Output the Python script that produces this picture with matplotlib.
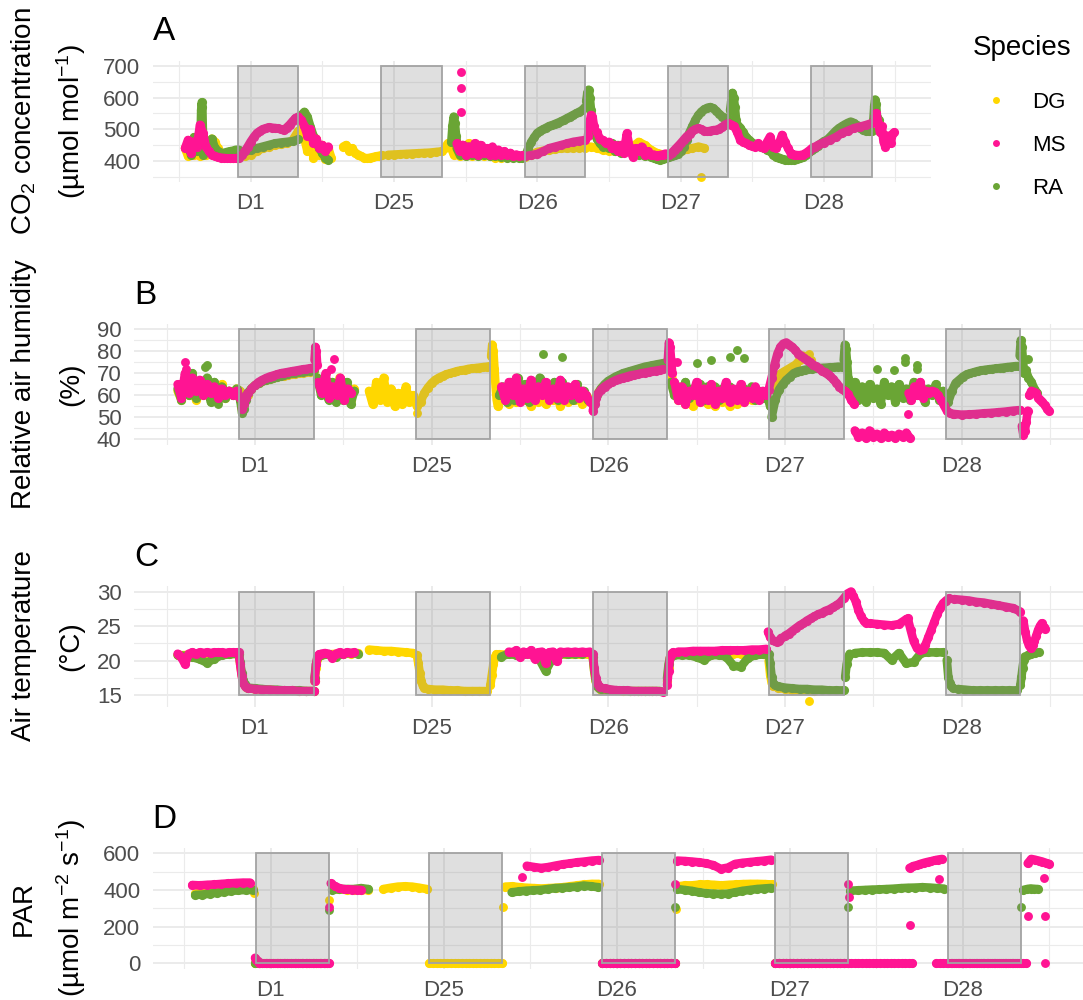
import numpy as np
import matplotlib
matplotlib.use("Agg")
import matplotlib.pyplot as plt
from matplotlib.patches import Rectangle
from matplotlib.lines import Line2D

plt.rcParams['font.family'] = ['Liberation Sans', 'DejaVu Sans']
plt.rcParams['mathtext.fontset'] = 'custom'
plt.rcParams['mathtext.rm'] = 'Liberation Sans'
plt.rcParams['mathtext.it'] = 'Liberation Sans:italic'
plt.rcParams['mathtext.bf'] = 'Liberation Sans:bold'

# ---- categories / axes ----
SPECIES = ['DG', 'MS', 'RA']
COLORS = {'DG': '#FFD700', 'MS': '#FF1493', 'RA': '#6AA535'}
DAY_LABELS = ['D1', 'D25', 'D26', 'D27', 'D28']
DAY_HOURS = [0, 24, 48, 72, 96]          # hours from D1 midnight
NIGHT_START = [-2.1, 21.9, 45.9, 69.9, 93.9]
NIGHT_LENGTH = 10.1

# ---- data: (start hour, step in hours, values) segments ----
# A: CO2 concentration (umol mol-1)
CO2_DG = [
    (-11, 0.5, [440, 415, 450, 420, 445, 415, 440, 420, 450, 470, 460, 440, 425, 415, 412, 410, 410, 412, 415]),
    (-1, 1, [415, 420, 430, 440, 445, 450, 453, 455, 465, 495]),
    (8.5, 0.5, [520, 470, 430, 500, 410, 470, 420, 450, 405, 440, 410]),
    (15.5, 0.5, [445, 450, 432, 440, 425, 420, 415, 410, 408, 410, 412, 414, 416, 418]),
    (23, 1, [419, 420, 421, 422, 423, 424, 425, 426, 428, 430]),
    (32.5, 0.5, [440, 455, 445, 420, 450, 415, 440, 420, 455, 415, 445, 420, 440, 415, 435, 415, 430, 410,
                 425, 410, 415, 412, 412]),
    (44, 1, [412, 412, 412, 420, 428, 432, 435, 437, 440, 440, 441, 442, 442]),
    (57, 1, [445, 440, 435, 432, 430, 435, 440, 445, 460, 450, 435, 425, 420, 418]),
    (71, 1, [425, 430, 436, 440, 445, 440]),
]
CO2_RA = [
    (-10.5, 0.5, [450, 420, 475, 430, 480, 420, 460, 430, 470, 440, 430, 425, 425, 428, 430, 432, 435, 435]),
    (-8.4, 0.1, [470, 560, 585, 570, 480]),
    (-1, 1, [430, 435, 440, 445, 450, 455, 458, 460, 462, 468]),
    (8.5, 0.5, [545, 555, 540, 508, 480, 456, 440, 424, 410, 403]),
    (33.6, 0.2, [460, 510, 540, 520, 480, 450]),
    (34.5, 0.5, [440, 420, 450, 415, 445, 420, 440, 415, 435, 420, 430, 415, 425, 415, 420, 412, 418, 410,
                 415, 410, 412, 410, 410]),
    (46, 0.5, [415, 440, 460, 475, 488, 495, 500, 505, 510, 513, 517, 521, 525, 530, 535, 540, 545, 550,
               555, 560, 570]),
    (56.2, 0.2, [590, 615, 625, 600, 560, 520, 490]),
    (57.5, 0.5, [487, 470, 455, 445, 455, 440, 455, 430, 450, 425, 445, 430, 440, 420, 430, 418, 425, 415,
                 418, 413, 410, 405, 402, 405, 410, 413]),
    (70.5, 0.5, [415, 418, 423, 432, 445, 466, 490, 510, 530, 545, 556, 563, 568, 570, 566, 558, 548, 540,
                 536, 535]),
    (80.3, 0.2, [560, 590, 615, 600, 570, 530]),
    (81.5, 0.5, [515, 505, 490, 475, 466, 458, 452, 447, 445, 440, 435, 430, 420, 413, 410, 406, 404, 402,
                 402, 404, 407, 410, 413, 420, 428, 434, 440, 448, 455, 462, 466, 475, 485, 495, 503, 509,
                 515, 520, 524, 520, 512, 505, 498, 495, 493, 493]),
    (104.3, 0.15, [530, 575, 594, 580, 540]),
    (105.2, 0.4, [530, 500, 480, 466, 455]),
]
CO2_MS = [
    (-11, 0.5, [440, 466, 424, 461, 445, 514, 487, 445, 430, 419, 415, 411, 410, 409, 408, 408, 408, 408, 410]),
    (-1.5, 0.5, [418, 430, 445, 461, 475, 487, 494, 500, 503, 506, 505, 504, 503, 500, 497, 505, 514, 525,
                 535, 540]),
    (8.5, 0.5, [530, 510, 480, 500, 456, 470, 440, 450, 430, 445]),
    (34.5, 0.5, [455, 430, 450, 420, 445, 425, 455, 420, 450, 425, 440, 420, 445, 418, 435, 420, 430, 418,
                 425, 415, 420, 415, 417]),
    (46, 1, [415, 418, 422, 430, 440, 445, 450, 455, 460, 463, 466]),
    (56.5, 0.25, [480, 520, 545, 540, 510]),
    (58, 0.5, [490, 470, 465, 455, 460, 440, 450, 430, 450, 425, 487, 440, 413, 440, 430, 445, 420, 430,
               418, 420, 415, 418, 420, 423]),
    (70, 0.5, [418, 425, 435, 445, 455, 466, 477, 485, 495, 500, 503, 500, 495, 493, 495, 497, 498, 502,
               508, 515, 519]),
    (80.5, 0.5, [515, 509, 490, 466, 460, 455, 450, 447, 445, 455, 445, 440, 460, 477, 445, 440, 455, 482,
                 460, 440, 423, 420, 418, 418, 420, 425, 432, 440, 445]),
    (95, 1, [450, 458, 466, 475, 487, 495, 503, 508, 513, 519]),
    (104.5, 0.3, [540, 551, 520, 490, 509, 460, 445, 480, 470, 455, 485, 490]),
]
CO2_PTS = {'DG': [(75.5, 349)], 'RA': [], 'MS': [(35.2, 682), (35.2, 630), (35.2, 556)]}

# B: relative air humidity (%)
RH_DG = [
    (-10.5, 0.5, [62, 58, 66, 60, 68, 58, 64, 60, 66, 59, 63, 60, 65, 59, 62, 60, 63, 62]),
    (-1.5, 0.5, [56, 60, 63, 64.5, 65.5, 66.5, 67, 67.5, 68, 68.5, 68.8, 69, 69.3, 69.5, 69.8, 70, 70.2,
                 70.5, 70.7, 71]),
    (8.5, 0.5, [67, 62, 66, 60, 64, 58, 68, 60, 65, 58, 63]),
    (15.5, 0.5, [62, 56, 66, 58, 68, 57, 63, 55, 61, 56, 64, 57, 60, 55]),
    (22.5, 0.5, [57, 61, 63.5, 65.5, 67, 68, 68.8, 69.5, 70, 70.5, 71, 71.3, 71.6, 72, 72.2, 72.4, 72.6,
                 72.8, 73, 73.2]),
    (32.1, 0.15, [78, 83, 80, 72, 64, 58, 55]),
    (33.5, 0.5, [58, 62, 56, 63, 57, 64, 58, 60, 55, 62, 57, 61, 56, 63, 58, 60, 55, 61, 57, 62, 58, 60,
                 56, 60]),
    (46, 1, [58, 63, 66, 68, 69, 70, 71, 72, 72.5, 73, 74]),
    (56.5, 0.5, [72, 62, 58, 64, 56, 60, 55, 62, 57, 61, 56, 60, 55, 62, 57, 60, 55, 61, 56, 60, 57, 60,
                 58, 59, 60, 61, 60]),
    (70, 0.5, [63, 66, 68, 70, 71, 72, 73, 74, 76, 78, 77, 76]),
]
RH_RA = [
    (-10.5, 0.5, [63, 58, 66, 60, 70, 59, 64, 61, 68, 57, 66, 58, 64, 59, 62, 60, 63, 58]),
    (-2, 0.25, [58, 52, 54, 58]),
    (-1, 0.5, [61, 63, 64.5, 65.5, 66.5, 67, 67.5, 68, 68.5, 69, 69.3, 69.6, 70, 70.2, 70.5, 70.7, 71,
               71.2, 71.5]),
    (8.5, 0.5, [68, 60, 65, 58, 66, 57, 63, 58, 66, 56, 62]),
    (33.2, 0.5, [60, 64, 57, 66, 58, 68, 60, 65, 57, 66, 62, 68, 64, 64, 60, 66, 58, 66, 60, 63, 58, 65,
                 60, 62, 58, 57]),
    (46, 0.5, [55, 60, 63, 65, 66.5, 67.5, 68.5, 69.2, 70, 70.5, 71, 71.5, 72, 72.5, 73, 73.3, 73.6, 74,
               74.3, 74.6, 75]),
    (56.5, 0.5, [66, 60, 64, 58, 66, 59, 63, 60, 65, 58, 64, 60, 64, 58, 63, 60, 64, 60, 62, 59, 63, 60,
                 64, 58, 62, 59, 61, 55]),
    (70.2, 0.5, [50, 58, 62.6, 65, 67, 68.5, 70, 70.8, 71.2, 71.6, 71.8, 72, 72.2, 72.4, 72.5, 72.6,
                 72.7, 72.8, 73, 73]),
    (80.0, 0.15, [76, 83, 81, 75, 68, 63]),
    (81, 0.5, [60, 66, 58, 64, 57, 65, 59, 63, 56, 66, 60, 64, 57, 65, 59, 63, 58, 66, 60, 64, 57, 63,
               60, 65, 58, 62, 57]),
    (94.2, 0.5, [57, 62, 65.6, 67, 68.5, 69.5, 70, 70.5, 71, 71.3, 71.6, 71.8, 72, 72.2, 72.4, 72.6,
                 72.8, 73, 73.2, 73.3]),
    (103.9, 0.15, [78, 85, 82, 76, 70]),
    (104.7, 0.4, [71.6, 68, 66, 63, 61]),
]
RH_MS = [
    (-10.5, 0.5, [65, 59, 70, 61, 68, 62, 67, 60, 65, 61, 64, 59, 63, 60, 62, 60, 62, 59]),
    (-1.75, 0.25, [54, 56, 59, 61]),
    (-0.5, 0.5, [63, 64.5, 66, 67, 67.8, 68.5, 69, 69.5, 70, 70.3, 70.6, 70.9, 71.2, 71.5, 71.8, 72,
                 72.3, 72.6]),
    (8.1, 0.12, [76, 82, 80, 74]),
    (8.6, 0.5, [66, 61, 70, 59, 64, 60, 68, 58, 63, 61]),
    (33.5, 0.5, [64, 58, 66, 60, 68, 57, 63, 59, 67, 58, 64, 60, 66, 58, 63, 59, 67, 58, 64, 60, 65, 59,
                 62, 60, 57]),
    (45.9, 0.25, [53, 56, 59, 61]),
    (47, 0.5, [62.5, 64, 65, 66, 66.8, 67.5, 68, 68.5, 69, 69.3, 69.6, 70, 70.3, 70.6, 70.9, 71.2, 71.5,
               71.8]),
    (56.1, 0.15, [76, 84, 82, 76, 70]),
    (57, 0.5, [66, 58, 64, 56, 62, 60, 66, 57, 63, 58, 65, 56, 62, 59, 66, 57, 63, 58, 65, 57, 62, 59,
               64, 58, 62, 60]),
    (69.8, 0.4, [62.6, 68, 74, 79, 82, 83.5, 84, 83, 82, 80.6, 79, 78, 77, 76, 75, 74, 73.2, 72.2, 71.2,
                 70.4, 69.5, 68.6, 67.2, 65.7, 64, 62.8, 61.8, 60.5, 58, 56]),
    (81.5, 0.5, [44, 41, 43, 40.5, 44, 41, 42.5, 40.5, 43, 41, 42, 40.5, 42.5, 41, 43, 40.5]),
    (88.8, 0.4, [61, 58, 64, 60, 66, 59, 62, 61, 62, 61.5, 60, 58, 55.5, 53, 52, 51.5]),
    (95, 1, [51.5, 51.2, 51.3, 51.5, 51.8, 52, 52.3, 52.6, 53, 53.3]),
    (104.2, 0.2, [46, 42, 44, 48, 53]),
    (105.2, 0.3, [60, 62, 61.5, 61, 59, 58, 57, 55.5, 54, 53]),
]
RH_PTS = {
    'DG': [(22, 52), (75.3, 79)],
    'RA': [(-6.8, 73), (-6.5, 74), (-5, 56), (39.2, 79), (41.7, 77.6), (60, 74.6), (62, 76), (64.5, 77.6),
           (65.5, 80.7), (66.5, 76.9), (84.5, 72), (86.8, 71.5), (88.3, 77), (88.3, 75), (90, 74),
           (90, 72), (105, 76.6)],
    'MS': [(-9.5, 75), (-9.4, 72), (10.3, 72), (10.8, 76.6), (57.4, 75), (88.7, 51.7)],
}

# C: air temperature (deg C)
T_DG = [
    (-10.5, 1, [20.8, 20.8, 20.9, 20.9, 20.9, 21, 21, 21, 21]),
    (-2.2, 0.2, [21, 19.5, 18, 17, 16.5, 16.2]),
    (-1, 1, [16, 15.9, 15.8, 15.8, 15.7, 15.7, 15.7, 15.6, 15.6, 15.6]),
    (8.1, 0.2, [17, 19, 20.2, 20.7]),
    (9, 1, [20.8, 20.9, 21, 21, 21, 21.1]),
    (15.5, 1, [21.6, 21.5, 21.4, 21.4, 21.3, 21.2, 21.1]),
    (22, 0.2, [20.8, 19.6, 18.2, 17, 16.4, 16.1]),
    (23.5, 1, [15.9, 15.8, 15.8, 15.7, 15.7, 15.6, 15.6, 15.6, 15.6]),
    (32, 0.2, [16.5, 18, 19.5, 20.5, 20.9]),
    (33.2, 1, [21, 21, 21, 21, 21, 21, 21, 21, 21, 21, 21, 21, 21]),
    (45.9, 0.2, [20.5, 18.5, 17, 16.3, 16]),
    (47, 1, [15.8, 15.7, 15.7, 15.6, 15.6, 15.6, 15.6, 15.6, 15.6]),
    (56, 0.2, [17, 19, 20.5, 21]),
    (57, 1, [21, 21, 21, 20.9, 21, 21, 21, 21, 21, 21, 21, 21, 21]),
    (69.8, 0.2, [20, 18, 16.8, 16.3]),
    (71, 1, [16.1, 15.9, 15.8, 15.7, 15.7, 15.6]),
]
T_RA = [
    (-10.5, 1, [20.8, 20.7, 20.5, 20.2, 19.7, 20.3, 20.8, 20.9, 21]),
    (-2.2, 0.2, [21, 19.8, 18.2, 17.2, 16.6, 16.3]),
    (-1, 1, [16.1, 16, 15.9, 15.8, 15.8, 15.7, 15.7, 15.7, 15.6, 15.6]),
    (8.1, 0.2, [17.5, 19.5, 20.4, 20.8]),
    (9, 1, [20.8, 20.9, 20.6, 21, 21.1, 21]),
    (33.5, 1, [20.6, 21, 20.8, 21, 21, 20.5, 18.5, 20.5, 21, 20.9, 21, 21]),
    (45.9, 0.2, [20.6, 18.6, 17.1, 16.4, 16.1]),
    (47, 1, [15.9, 15.8, 15.7, 15.7, 15.6, 15.6, 15.6, 15.6, 15.6]),
    (56, 0.2, [17.5, 19.5, 20.4, 20.8]),
    (57, 1, [20.8, 20.8, 20.8, 20.5, 20.1, 20.8, 20.8, 20.6, 19.3, 19.1, 20.4, 20.8, 20.9]),
    (69.8, 0.2, [21, 19.6, 17.7, 16.8, 16.5]),
    (71, 1, [16.3, 16.1, 16, 15.9, 15.9, 15.8, 15.8, 15.7, 15.7, 15.7]),
    (80.2, 0.2, [17.7, 19.5, 20.5, 21.0]),
    (81.5, 1, [21.1, 21.2, 21.2, 21.2, 21.1, 20.1, 21.1, 19.6, 19.8, 21.1, 21.2, 21.2, 21.2]),
    (94, 0.2, [20.1, 17.7, 16.8, 16.3, 16.1]),
    (95.5, 1, [15.9, 15.8, 15.7, 15.7, 15.7, 15.7, 15.7, 15.7, 15.7]),
    (104, 0.15, [16.5, 17.7, 19, 20.1, 20.6]),
    (105, 0.5, [20.8, 21, 21.1, 21.2]),
]
T_MS = [
    (-10.5, 0.5, [21, 20.5, 19.5, 21, 21.2, 21, 21.2, 21.1, 21.2, 21.1, 21.2, 21.2, 21.2, 21.1, 21.2, 21.2,
                  21.2]),
    (-2.2, 0.2, [21.2, 19.5, 17.8, 16.8, 16.4, 16.2]),
    (-1, 1, [16, 15.9, 15.8, 15.8, 15.7, 15.7, 15.7, 15.6, 15.6, 15.6]),
    (8.1, 0.2, [17, 19.5, 20.5, 20.9]),
    (9, 0.5, [21, 21.1, 21, 20.4, 21, 21.2, 21, 21.2, 21.1, 21.2]),
    (34.5, 0.5, [21.3, 21.2, 21.5, 20.5, 21.3, 21, 21.5, 20.3, 21.2, 21.3, 19.6, 21.2, 21.3, 19.9, 21.3,
                 21.2, 21.3, 21.2, 21.3, 21.2, 21.3, 21.2, 21.3]),
    (45.9, 0.2, [21, 19, 17.5, 16.8, 16.4, 16.2]),
    (47.5, 1, [16, 15.8, 15.7, 15.7, 15.6, 15.6, 15.6, 15.6, 15.5]),
    (56, 0.2, [16.5, 18.5, 20.5, 21, 21.2]),
    (57.5, 1, [21.3, 21.3, 21.4, 21.4, 21.4, 21.4, 21.5, 21.5, 21.5, 21.5, 21.6, 21.6, 21.7]),
    (69.7, 0.3, [24.2, 23.4, 23, 22.8, 22.7, 22.9, 23.3]),
    (72, 0.5, [23.6, 23.9, 24.3, 24.7, 25.1, 25.4, 25.8, 26.1, 26.4, 26.7, 26.9, 27.2, 27.4, 27.7, 28.0,
               28.4, 29.0, 29.7, 30.0]),
    (81.3, 0.35, [29.4, 28.5, 27.3, 26.4, 25.8, 25.5]),
    (83.5, 1, [25.4, 25.3, 25.2, 25.1, 25.3, 26.0]),
    (88.7, 0.4, [26.1, 24.4, 22.8, 21.9, 21.5, 21.7, 22.3, 23.4, 24.5, 25.6, 26.7, 27.6, 28.3, 28.7, 29.0]),
    (95, 1, [28.9, 28.8, 28.7, 28.5, 28.4, 28.2, 28, 27.8, 27.6, 27.1]),
    (104.4, 0.25, [25.8, 24.2, 23, 22.2, 21.8, 22.2, 22.8, 23.6, 24.4, 25, 25.4, 24.9, 24.6]),
]
T_PTS = {'DG': [(75.3, 14.1)], 'RA': [], 'MS': []}

# D: PAR (umol m-2 s-1)
PAR_DG = [
    (-10.5, 1, [380, 385, 390, 395, 400, 405, 405, 408, 405]),
    (-2.2, 0.5, [0] * 21),
    (8.5, 1, [405, 405, 400, 400, 400, 400]),
    (15.6, 1, [405, 412, 418, 420, 418, 412, 405]),
    (22, 0.5, [0] * 21),
    (32.5, 1, [418, 420, 415, 412, 410, 408, 410, 412, 415, 420, 425, 430, 433, 433]),
    (46, 0.5, [0] * 21),
    (56.5, 1, [420, 425, 425, 430, 430, 428, 425, 428, 430, 432, 433, 433, 432, 430]),
    (70, 0.5, [0] * 13),
]
PAR_RA = [
    (-10.5, 1, [373, 375, 380, 385, 390, 395, 398, 400, 400]),
    (-2.2, 0.5, [0] * 21),
    (8.5, 1, [400, 405, 405, 405, 410, 405]),
    (33.4, 1, [387, 392, 396, 398, 400, 405, 410, 412, 415, 418, 424, 420, 415]),
    (46, 0.5, [0] * 21),
    (56.4, 1, [405, 400, 395, 387, 382, 380, 378, 380, 387, 395, 400, 405, 408, 411]),
    (70, 0.5, [0] * 21),
    (80.4, 1, [396, 398, 400, 402, 403, 405, 407, 410, 412, 413, 415, 413, 410, 407]),
    (94, 0.5, [0] * 21),
    (104.4, 0.5, [400, 405, 408, 406, 405]),
]
PAR_MS = [
    (-10.9, 1, [427, 425, 428, 430, 433, 436, 438, 440, 440]),
    (-2.2, 0.2, [30, 20, 10, 0]),
    (-1.5, 0.5, [0] * 20),
    (8.3, 0.6, [436, 420, 410, 405, 403, 402, 401, 400]),
    (35.5, 1, [532, 525, 520, 525, 533, 540, 545, 551, 555, 560, 563]),
    (46, 0.5, [0] * 21),
    (56.4, 1, [560, 558, 555, 551, 545, 535, 515, 522, 542, 548, 552, 556, 560, 565]),
    (70, 0.5, [0] * 39),
    (88.6, 0.5, [520, 530, 535, 542, 548, 553, 557, 562, 566, 569]),
    (92.3, 0.5, [0] * 26),
    (105, 0.5, [545, 569, 565, 560, 555, 548, 542]),
]
PAR_PTS = {
    'DG': [(-2.3, 382), (8.1, 345), (32.2, 305), (56.2, 296)],
    'RA': [(8.1, 290), (56.1, 309), (80.1, 305), (104.1, 305)],
    'MS': [(8.0, 309), (34.9, 469), (56.1, 433), (80.1, 433), (80.2, 360), (88.6, 211), (92.7, 460),
           (105, 260), (107.4, 260), (107.3, 463), (107.4, 0)],
}

GRID = '#EBEBEB'
TEXT_GREY = '#4D4D4D'
W, H = 1083, 1000


def px_axes(fig, left, right, top, bottom):
    """Place axes using pixel coordinates (top-left origin)."""
    return fig.add_axes([left / W, 1 - bottom / H, (right - left) / W, (bottom - top) / H])


def draw_series(ax, segs, pts, color):
    for t0, dt, vals in segs:
        t = t0 + dt * np.arange(len(vals))
        ax.plot(t, vals, color=color, lw=6.2, marker='o', ms=6.6, mew=0,
                solid_capstyle='round', solid_joinstyle='round', zorder=2)
    if pts:
        t, v = zip(*pts)
        ax.plot(t, v, ls='none', marker='o', ms=6.4, mew=0, color=color, zorder=2)


def style_panel(ax, series, pts, box_lo, box_hi, ylim, yticks, yminor, tag):
    for sp in ['DG', 'RA', 'MS']:
        draw_series(ax, series[sp], pts[sp], COLORS[sp])
    for s in NIGHT_START:
        ax.add_patch(Rectangle((s, box_lo), NIGHT_LENGTH, box_hi - box_lo,
                               facecolor=(0.5, 0.5, 0.5, 0.25), edgecolor='#A3A3A3',
                               lw=1.3, zorder=3))
    ax.set_xlim(-16.4, 114)
    ax.set_ylim(*ylim)
    ax.set_xticks(DAY_HOURS)
    ax.set_xticklabels(DAY_LABELS)
    ax.set_xticks([-12, 12, 36, 60, 84, 108], minor=True)
    ax.set_yticks(yticks)
    ax.set_yticks(yminor, minor=True)
    ax.grid(which='major', color=GRID, lw=1.4)
    ax.grid(which='minor', color=GRID, lw=0.8)
    ax.set_axisbelow(True)
    for s in ax.spines.values():
        s.set_visible(False)
    ax.tick_params(which='both', length=0, labelsize=16, labelcolor=TEXT_GREY)
    ax.tick_params(axis='x', pad=8)
    ax.tick_params(axis='y', pad=9)
    ax.annotate(tag, xy=(0, 1), xycoords='axes fraction', xytext=(0, 14.5),
                textcoords='offset points', fontsize=24, ha='left', va='baseline')


def ylabel(fig, line1, line2, yc):
    fig.text(24 / W, 1 - yc / H, line1, rotation=90, ha='center', va='center', fontsize=20)
    fig.text(71 / W, 1 - yc / H, line2, rotation=90, ha='center', va='center', fontsize=20)


def main():
    fig = plt.figure(figsize=(W / 100, H / 100), dpi=100)

    ax_a = px_axes(fig, 152.8, 931.3, 60.5, 182.2)
    style_panel(ax_a, {'DG': CO2_DG, 'RA': CO2_RA, 'MS': CO2_MS}, CO2_PTS, 350, 700,
                (332.5, 717.5), [400, 500, 600, 700], [350, 450, 550, 650], 'A')
    ylabel(fig, r'CO$_2$ concentration', r'(µmol mol$^{-1}$)', 121)

    ax_b = px_axes(fig, 134.2, 1094, 323.8, 444.8)
    style_panel(ax_b, {'DG': RH_DG, 'RA': RH_RA, 'MS': RH_MS}, RH_PTS, 40, 90,
                (37.5, 92.5), [40, 50, 60, 70, 80, 90], [45, 55, 65, 75, 85], 'B')
    ylabel(fig, 'Relative air humidity', '(%)', 384)

    ax_c = px_axes(fig, 134.2, 1094, 586, 707)
    style_panel(ax_c, {'DG': T_DG, 'RA': T_RA, 'MS': T_MS}, T_PTS, 15, 30,
                (13.3, 30.8), [15, 20, 25, 30], [17.5, 22.5, 27.5], 'C')
    ylabel(fig, 'Air temperature', '(°C)', 646)

    ax_d = px_axes(fig, 152.7, 1092.6, 847.8, 968.8)
    style_panel(ax_d, {'DG': PAR_DG, 'RA': PAR_RA, 'MS': PAR_MS}, PAR_PTS, 0, 600,
                (-30, 630), [0, 200, 400, 600], [100, 300, 500], 'D')
    ylabel(fig, 'PAR', r'(µmol m$^{-2}$ s$^{-1}$)', 908)

    # legend for panel A: title as text, keys via fig.legend
    fig.text(973 / W, 1 - 48 / H, 'Species', fontsize=20, ha='left', va='center')
    handles = [Line2D([], [], ls='none', marker='o', ms=5, mew=0, color=COLORS[s]) for s in SPECIES]
    fig.legend(handles, SPECIES, loc='upper left',
               bbox_to_anchor=(973 / W, 1 - 92 / H), frameon=False, fontsize=16,
               handlelength=2.1, handletextpad=0.55, labelspacing=0.98,
               borderpad=0, borderaxespad=0)

    fig.savefig('out.png', dpi=100)


if __name__ == '__main__':
    main()
